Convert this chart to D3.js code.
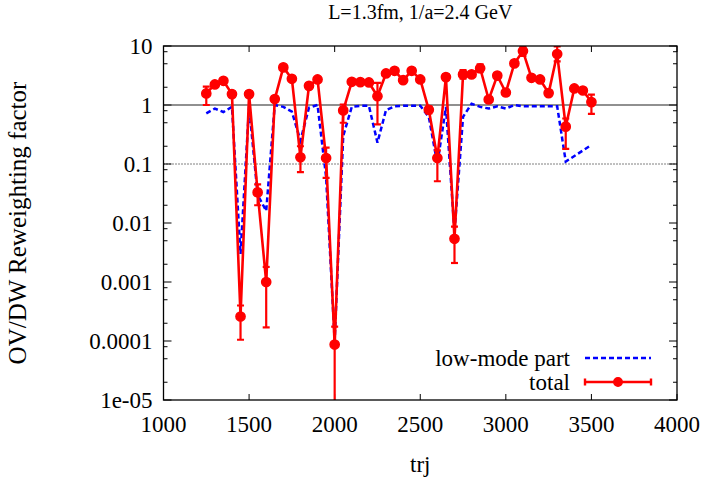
<!DOCTYPE html>
<html>
<head>
<meta charset="utf-8">
<script src="https://cdn.jsdelivr.net/npm/d3@7"></script>
<style>
  html, body { margin: 0; padding: 0; background: #fff; }
  svg { display: block; font-family: "Liberation Serif", "DejaVu Serif", serif; }
</style>
</head>
<body>
<div id="chart"></div>
<script>
// trajectory numbers of the measurements
const trj = [1250, 1300, 1350, 1400, 1450, 1500, 1550, 1600, 1650, 1700,
  1750, 1800, 1850, 1900, 1950, 2000, 2050, 2100, 2150, 2200,
  2250, 2300, 2350, 2400, 2450, 2500, 2550, 2600, 2650, 2700,
  2750, 2800, 2850, 2900, 2950, 3000, 3050, 3100, 3150, 3200,
  3250, 3300, 3350, 3400, 3450, 3500];

const total = [1.57, 2.23, 2.57, 1.53, 2.6e-4, 1.53, 0.033, 1.0e-3, 1.26, 4.34,
  2.78, 0.13, 2.11, 2.71, 0.126, 8.7e-5, 0.81, 2.47, 2.44, 2.41,
  1.41, 3.43, 3.8, 2.64, 3.8, 2.71, 0.83, 0.126, 2.97, 0.0054,
  3.3, 3.3, 4.2, 1.24, 3.15, 1.63, 5.07, 8.2, 2.89, 2.71,
  1.59, 7.3, 0.43, 1.91, 1.76, 1.12];

const totalLo = [1.0, 2.05, 2.35, 1.4, 1.05e-4, 1.4, 0.02, 1.7e-4, 1.15, 4.0,
  2.55, 0.073, 1.95, 2.5, 0.058, 1e-6, 0.5, 2.3, 2.28, 2.25,
  0.47, 3.15, 3.4, 2.45, 3.45, 2.5, 0.72, 0.051, 2.7, 0.0021,
  2.8, 3.0, 3.6, 1.12, 2.9, 1.45, 4.6, 6.8, 2.65, 2.5,
  1.45, 5.5, 0.18, 1.75, 1.6, 0.71];

const totalHi = [2.05, 2.4, 2.8, 1.65, 4.0e-4, 1.65, 0.045, 1.8e-3, 1.37, 4.7,
  3.0, 0.2, 2.3, 2.9, 0.19, 1.75e-4, 1.02, 2.65, 2.62, 2.58,
  2.38, 3.7, 4.2, 2.85, 4.2, 2.9, 0.95, 0.17, 3.3, 0.0087,
  3.9, 3.6, 4.9, 1.36, 3.4, 1.8, 5.5, 9.9, 3.1, 2.9,
  1.75, 9.8, 0.59, 2.07, 1.92, 1.5];

// low-mode part (no values at 3400, 3450)
const lowTrj = [1250, 1300, 1350, 1400, 1450, 1500, 1550, 1600, 1650, 1700,
  1750, 1800, 1850, 1900, 1950, 2000, 2050, 2100, 2150, 2200,
  2250, 2300, 2350, 2400, 2450, 2500, 2550, 2600, 2650, 2700,
  2750, 2800, 2850, 2900, 2950, 3000, 3050, 3100, 3150, 3200,
  3250, 3300, 3350, 3500];

const lowMode = [0.72, 0.87, 0.76, 0.93, 0.003, 0.95, 0.03, 0.016, 1.0, 0.93,
  0.77, 0.25, 0.9, 1.0, 0.06, 1.0e-4, 0.3, 0.93, 0.97, 0.97,
  0.23, 0.82, 0.95, 0.97, 0.97, 0.97, 0.63, 0.1, 0.93, 0.007,
  0.63, 1.05, 0.93, 0.87, 0.95, 0.87, 1.0, 0.95, 0.95, 0.95,
  0.95, 0.95, 0.11, 0.21];

const xTicks = [1000, 1500, 2000, 2500, 3000, 3500, 4000];
const yTicks = [10, 1, 0.1, 0.01, 0.001, 0.0001, 0.00001];
const yTickLabels = ['10', '1', '0.1', '0.01', '0.001', '0.0001', '1e-05'];

(function () {
  const W = 707, H = 482;
  const margin = { top: 46, right: 30, bottom: 82, left: 163.5 };
  const red = '#ff0000', blue = '#0000ff';

  const svg = d3.select('#chart').append('svg')
    .attr('width', W).attr('height', H);

  const x = d3.scaleLinear().domain([1000, 4000]).range([margin.left, W - margin.right]);
  const y = d3.scaleLog().domain([1e-5, 10]).range([H - margin.bottom, margin.top]);

  const x0 = x.range()[0], x1 = x.range()[1];
  const y0 = y.range()[0], y1 = y.range()[1];

  svg.append('defs').append('clipPath').attr('id', 'clip')
    .append('rect').attr('x', x0).attr('y', y1).attr('width', x1 - x0).attr('height', y0 - y1);

  // minor ticks at 2,5,8 of each decade
  const minor = [];
  for (let e = -5; e < 1; e++) [2, 5, 8].forEach(m => minor.push(m * Math.pow(10, e)));

  const axes = svg.append('g').attr('stroke', '#000').attr('stroke-width', 1);
  // y major + minor ticks, both sides, inward
  yTicks.forEach(v => {
    axes.append('line').attr('x1', x0).attr('x2', x0 + 8).attr('y1', y(v)).attr('y2', y(v));
    axes.append('line').attr('x1', x1).attr('x2', x1 - 8).attr('y1', y(v)).attr('y2', y(v));
  });
  minor.forEach(v => {
    axes.append('line').attr('x1', x0).attr('x2', x0 + 4).attr('y1', y(v)).attr('y2', y(v));
    axes.append('line').attr('x1', x1).attr('x2', x1 - 4).attr('y1', y(v)).attr('y2', y(v));
  });
  xTicks.forEach(v => {
    axes.append('line').attr('x1', x(v)).attr('x2', x(v)).attr('y1', y0).attr('y2', y0 - 6);
    axes.append('line').attr('x1', x(v)).attr('x2', x(v)).attr('y1', y1).attr('y2', y1 + 6);
  });

  // reference lines
  svg.append('line').attr('x1', x0).attr('x2', x1).attr('y1', y(1)).attr('y2', y(1))
    .attr('stroke', '#222').attr('stroke-width', 1.2);
  svg.append('line').attr('x1', x0).attr('x2', x1).attr('y1', y(0.1)).attr('y2', y(0.1))
    .attr('stroke', '#000').attr('stroke-width', 1).attr('stroke-dasharray', '1,2');

  // tick labels
  svg.append('g').selectAll('text').data(yTicks).join('text')
    .attr('x', x0 - 11).attr('y', d => y(d) + 8)
    .attr('text-anchor', 'end').attr('font-size', 23)
    .text((d, i) => yTickLabels[i]);
  svg.append('g').selectAll('text').data(xTicks).join('text')
    .attr('x', d => x(d)).attr('y', y0 + 32)
    .attr('text-anchor', 'middle').attr('font-size', 23)
    .text(d => d);

  // axis titles
  svg.append('text').attr('x', (x0 + x1) / 2).attr('y', 19)
    .attr('text-anchor', 'middle').attr('font-size', 20)
    .text('L=1.3fm, 1/a=2.4 GeV');
  svg.append('text').attr('x', (x0 + x1) / 2).attr('y', 472)
    .attr('text-anchor', 'middle').attr('font-size', 23).text('trj');
  svg.append('text')
    .attr('transform', `translate(26,${(y0 + y1) / 2}) rotate(-90)`)
    .attr('text-anchor', 'middle').attr('font-size', 25)
    .text('OV/DW Reweighting factor');

  const plot = svg.append('g').attr('clip-path', 'url(#clip)');

  // low-mode dashed line
  const lowLine = d3.line().x((d, i) => x(lowTrj[i])).y(d => y(d));
  plot.append('path').datum(lowMode).attr('d', lowLine)
    .attr('fill', 'none').attr('stroke', blue).attr('stroke-width', 2.5)
    .attr('stroke-dasharray', '5,3');

  // total: line + error bars + points
  const totLine = d3.line().x((d, i) => x(trj[i])).y(d => y(d));
  plot.append('path').datum(total).attr('d', totLine)
    .attr('fill', 'none').attr('stroke', red).attr('stroke-width', 2.6)
    .attr('stroke-linejoin', 'round');

  const eb = plot.append('g').attr('stroke', red).attr('stroke-width', 2.2);
  trj.forEach((t, i) => {
    const cx = x(t), ya = y(totalLo[i]), yb = y(totalHi[i]);
    eb.append('line').attr('x1', cx).attr('x2', cx).attr('y1', ya).attr('y2', yb);
    eb.append('line').attr('x1', cx - 3.5).attr('x2', cx + 3.5).attr('y1', ya).attr('y2', ya);
    eb.append('line').attr('x1', cx - 3.5).attr('x2', cx + 3.5).attr('y1', yb).attr('y2', yb);
  });

  plot.append('g').selectAll('circle').data(total).join('circle')
    .attr('cx', (d, i) => x(trj[i])).attr('cy', d => y(d)).attr('r', 4.6)
    .attr('fill', red).attr('stroke', red).attr('stroke-width', 1.5);

  // frame
  svg.append('rect').attr('x', x0).attr('y', y1).attr('width', x1 - x0).attr('height', y0 - y1)
    .attr('fill', 'none').attr('stroke', '#000').attr('stroke-width', 1.3);

  // legend
  const lg = svg.append('g').attr('font-size', 23);
  const lx0 = 585, lx1 = 651, ly1 = 358, ly2 = 382;
  lg.append('text').attr('x', 570).attr('y', ly1 + 8).attr('text-anchor', 'end').text('low-mode part');
  lg.append('line').attr('x1', lx0).attr('x2', lx1).attr('y1', ly1).attr('y2', ly1)
    .attr('stroke', blue).attr('stroke-width', 2.5).attr('stroke-dasharray', '5,3');
  lg.append('text').attr('x', 570).attr('y', ly2 + 8).attr('text-anchor', 'end').text('total');
  const lt = lg.append('g').attr('stroke', red).attr('stroke-width', 2.4);
  lt.append('line').attr('x1', lx0).attr('x2', lx1).attr('y1', ly2).attr('y2', ly2);
  lt.append('line').attr('x1', lx0).attr('x2', lx0).attr('y1', ly2 - 3.5).attr('y2', ly2 + 3.5);
  lt.append('line').attr('x1', lx1).attr('x2', lx1).attr('y1', ly2 - 3.5).attr('y2', ly2 + 3.5);
  lg.append('circle').attr('cx', (lx0 + lx1) / 2).attr('cy', ly2).attr('r', 4.2)
    .attr('fill', red).attr('stroke', red).attr('stroke-width', 1.5);
})();
</script>
</body>
</html>
